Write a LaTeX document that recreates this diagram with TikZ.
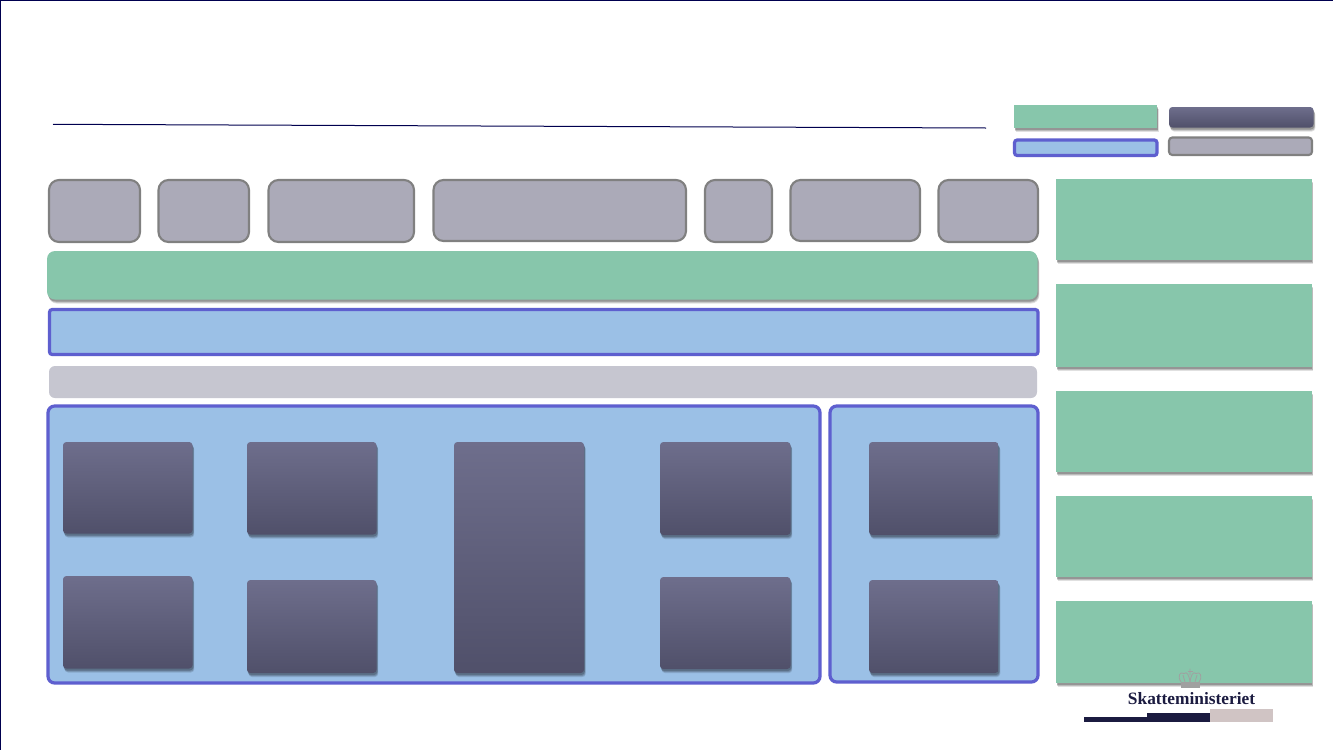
\documentclass[tikz,border=0pt]{standalone}
\usepackage{fontspec}
\setmainfont{Liberation Serif}
\usetikzlibrary{shadows}
\definecolor{navy}{HTML}{00004F}
\definecolor{greyfill}{HTML}{ABAAB8}
\definecolor{greyline}{HTML}{808080}
\definecolor{greenfill}{HTML}{87C6AB}
\definecolor{bluefill}{HTML}{9BC0E6}
\definecolor{blueline}{HTML}{5E5FCF}
\definecolor{palegrey}{HTML}{C6C6D0}
\definecolor{darktop}{HTML}{6E6E8C}
\definecolor{darkbot}{HTML}{50506A}
\definecolor{logonavy}{HTML}{1B1B40}
\definecolor{logopink}{HTML}{D0C4C4}
\definecolor{crowngrey}{HTML}{A0A0A0}
\tikzset{
  base/.style={rectangle,inner sep=0pt,outer sep=0pt},
  softshadow/.style={
    general shadow={shadow xshift=1.3pt,shadow yshift=-3pt,fill=black,opacity=.12},
    general shadow={shadow xshift=1pt,shadow yshift=-2.3pt,fill=black,opacity=.16},
    general shadow={shadow xshift=.6pt,shadow yshift=-1.5pt,fill=black,opacity=.2}},
  greybox/.style={base,draw=greyline,line width=1.6pt,fill=greyfill,rounded corners=7.5pt},
  smallgrey/.style={base,draw=greyline,line width=1.6pt,fill=greyfill,rounded corners=2.5pt},
  greenbar/.style={base,fill=greenfill,rounded corners=6pt,softshadow},
  greenbox/.style={base,fill=greenfill,softshadow},
  bluebar/.style={base,draw=blueline,line width=2.4pt,fill=bluefill,rounded corners=2pt},
  bluepanel/.style={base,draw=blueline,line width=2.4pt,fill=bluefill,rounded corners=5pt},
  palebar/.style={base,fill=palegrey,rounded corners=4.5pt},
  darkbox/.style={base,top color=darktop,bottom color=darkbot,rounded corners=2.5pt,softshadow},
  crownline/.style={draw=crowngrey,line width=.6pt},
}
\newcommand{\bx}[6]{\node[#2,minimum width={(#5-#3)*0.75pt},minimum height={(#6-#4)*0.75pt}] (#1) at ({(#3+#5)/2},{(#4+#6)/2}) {};}
\begin{document}
\begin{tikzpicture}[x=0.75pt,y=-0.75pt]
\useasboundingbox (0,0) rectangle (1333,750);
\fill[white] (0,0) rectangle (1333,750);
% slide frame
\draw[navy,line width=1.5pt] (0,0.3) -- (1333,0.3);
\draw[navy,line width=1.5pt] (0.3,0) -- (0.3,750);
% title rule
\coordinate (ruleA) at (53,124.3);
\coordinate (ruleB) at (986,128);
\draw[navy,line width=.75pt] (ruleA) -- (ruleB);
% legend
\bx{legGreen}{greenbox}{1014}{105}{1157}{127.5}
\bx{legDark}{darkbox}{1169}{107}{1313.5}{127.5}
\bx{legBlue}{bluebar}{1014.5}{140}{1157}{155.5}
\bx{legGrey}{smallgrey}{1169}{137.5}{1312}{155}
% top row
\bx{g1}{greybox}{49}{180}{140}{242}
\bx{g2}{greybox}{158.5}{180}{249}{242}
\bx{g3}{greybox}{268.5}{180}{414}{242}
\bx{g4}{greybox}{433.5}{180}{686}{241}
\bx{g5}{greybox}{705}{180}{772}{242}
\bx{g6}{greybox}{790.5}{180}{920}{241}
\bx{g7}{greybox}{938.5}{180}{1038}{242}
% bars
\bx{barGreen}{greenbar}{47}{251}{1037.5}{299.5}
\bx{barBlue}{bluebar}{49.5}{309.5}{1038}{354.5}
\bx{barPale}{palebar}{49}{366}{1037}{398}
% panels
\bx{panelA}{bluepanel}{48}{406}{820}{683}
\bx{panelB}{bluepanel}{830}{406}{1038}{682}
% dark boxes
\bx{d1}{darkbox}{63}{442}{192.5}{533.5}
\bx{d2}{darkbox}{247}{442}{376.5}{534.5}
\bx{d3}{darkbox}{454}{442}{584}{673}
\bx{d4}{darkbox}{660}{442}{790.5}{535}
\bx{d5}{darkbox}{869}{442}{998.5}{535}
\bx{d6}{darkbox}{63}{576}{192.5}{668.5}
\bx{d7}{darkbox}{247}{580}{376.5}{673}
\bx{d8}{darkbox}{660}{577}{790.5}{669}
\bx{d9}{darkbox}{869}{580}{998.5}{673}
% right column
\bx{r1}{greenbox}{1056}{179}{1311.5}{259.5}
\bx{r2}{greenbox}{1056}{284}{1311.5}{366.5}
\bx{r3}{greenbox}{1056}{391}{1311.5}{471.5}
\bx{r4}{greenbox}{1056}{496}{1311.5}{576.5}
\bx{r5}{greenbox}{1056}{601}{1311.5}{682.5}
% logo
\fill[crowngrey] (1180.5,682) rectangle (1199.5,688);
\draw[crownline] (1181,682) .. controls (1177,676) and (1180,671) .. (1184,673.5) .. controls (1187,671) and (1189,675) .. (1190,682);
\draw[crownline] (1199,682) .. controls (1203,676) and (1200,671) .. (1196,673.5) .. controls (1193,671) and (1191,675) .. (1190,682);
\draw[crownline] (1185,682) -- (1183,675) (1195,682) -- (1197,675) (1190,675) -- (1190,668.5);
\draw[crownline] (1187.5,671) -- (1192.5,671);
\node[base,text=logonavy,font=\bfseries\fontsize{13pt}{15pt}\selectfont] (logoText) at (1191.5,698.5) {Skatteministeriet};
\fill[logonavy] (1084,717) rectangle (1147,722);
\fill[logonavy] (1147,713) rectangle (1210,722);
\fill[logopink] (1210,709) rectangle (1273,722);
\end{tikzpicture}
\end{document}
